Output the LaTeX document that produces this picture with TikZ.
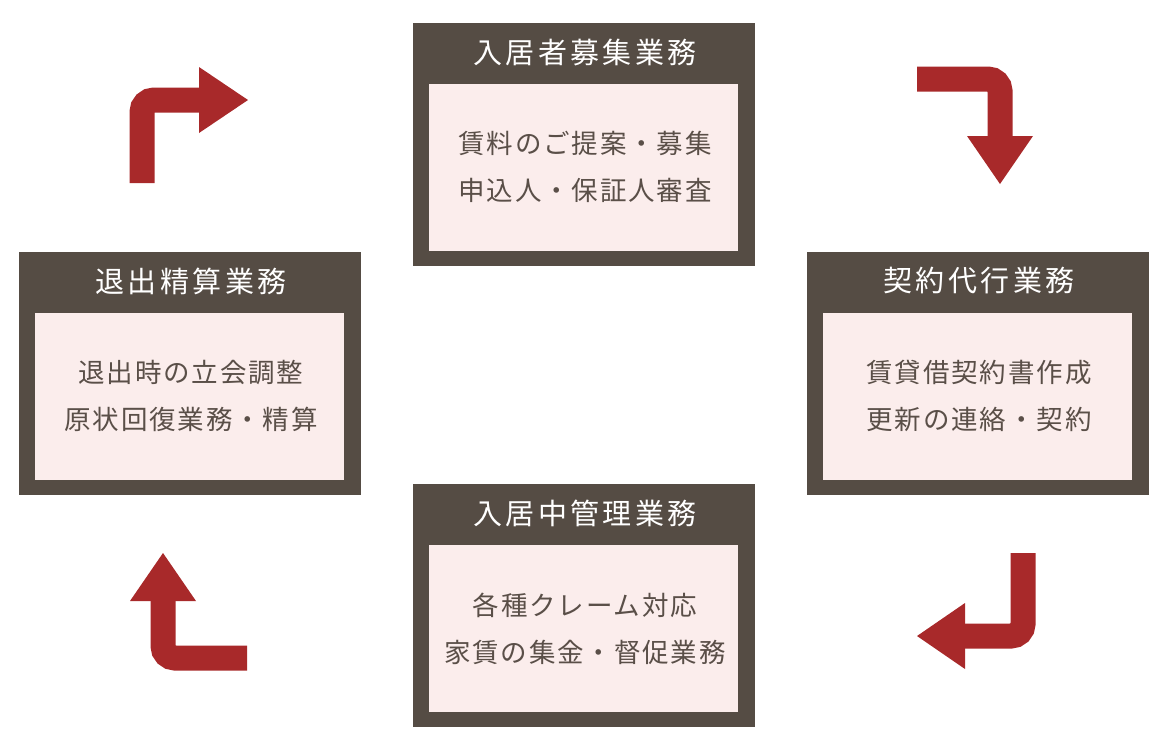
\documentclass[tikz,border=0pt]{standalone}
\usepackage{fontspec}
\setmainfont{Noto Sans CJK JP}
\newfontfamily\titlefont[LetterSpace=12]{Noto Sans CJK JP}
\newfontfamily\bodyfont[LetterSpace=7]{Noto Sans CJK JP}
\definecolor{boxdark}{HTML}{554C44}
\definecolor{boxlight}{HTML}{FBEDEC}
\definecolor{bodytext}{HTML}{5A4F48}
\definecolor{arrowred}{HTML}{A8292A}
\begin{document}
\begin{tikzpicture}[x=1pt,y=-1pt,
  outerbox/.style={fill=boxdark,draw=none},
  innerbox/.style={fill=boxlight,draw=none},
  titletext/.style={text=white,font=\titlefont\fontsize{29}{34}\selectfont,anchor=center,inner sep=0},
  bodytextstyle/.style={text=bodytext,font=\bodyfont\fontsize{26.5}{47}\selectfont,align=center,anchor=center,inner sep=0},
  shaft/.style={draw=arrowred,line width=25pt,rounded corners=12pt},
  head/.style={fill=arrowred,draw=none}]
\useasboundingbox (0,0) rectangle (1170,750);
% top box
\fill[outerbox] (413,23) rectangle (755,266);
\fill[innerbox] (429,84) rectangle (738,251);
\node[titletext] (t1) at (585,53) {入居者募集業務};
\node[bodytextstyle] (b1) at (585,167) {賃料のご提案・募集\\申込人・保証人審査};
% right box
\fill[outerbox] (807,252) rectangle (1149,495);
\fill[innerbox] (823,313) rectangle (1132,480);
\node[titletext] (t2) at (979,281) {契約代行業務};
\node[bodytextstyle] (b2) at (979,396) {賃貸借契約書作成\\更新の連絡・契約};
% bottom box
\fill[outerbox] (413,484) rectangle (755,727);
\fill[innerbox] (429,545) rectangle (738,712);
\node[titletext] (t3) at (585,513) {入居中管理業務};
\node[bodytextstyle] (b3) at (585,629) {各種クレーム対応\\家賃の集金・督促業務};
% left box
\fill[outerbox] (19,252) rectangle (361,495);
\fill[innerbox] (35,313) rectangle (344,480);
\node[titletext] (t4) at (191,281) {退出精算業務};
\node[bodytextstyle] (b4) at (191,396) {退出時の立会調整\\原状回復業務・精算};
% arrow top-left
\draw[shaft] (142,183) -- (142,100) -- (202,100);
\fill[head] (199,67) -- (248,100) -- (199,133) -- cycle;
% arrow top-right
\draw[shaft] (917,79) -- (1000,79) -- (1000,138);
\fill[head] (967,136) -- (1033,136) -- (1000,184) -- cycle;
% arrow bottom-right
\draw[shaft] (1023,553) -- (1023,636) -- (963,636);
\fill[head] (965,603) -- (917,636) -- (965,669) -- cycle;
% arrow bottom-left
\draw[shaft] (247,658) -- (163,658) -- (163,599);
\fill[head] (130,601) -- (163,553) -- (196,601) -- cycle;
\end{tikzpicture}
\end{document}
